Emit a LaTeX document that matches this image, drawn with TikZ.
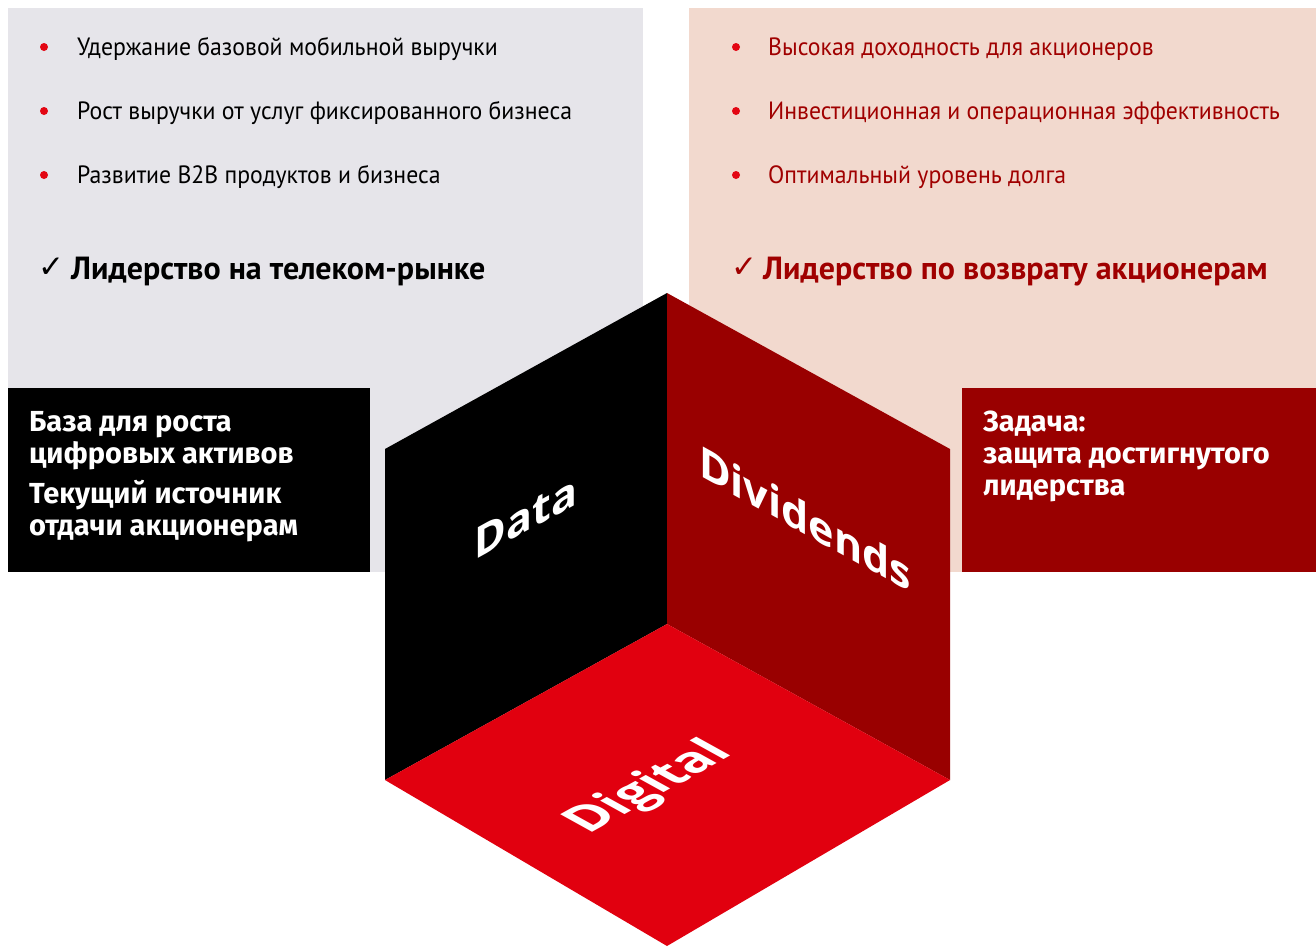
\documentclass[tikz,border=0pt]{standalone}
\usepackage{fontspec}
\setmainfont{PT Sans}
\newfontfamily\listfont{PT Sans}[FakeStretch=0.95]
\newfontfamily\headfont{PT Sans}
\newfontfamily\boxfont{Fira Sans}
\newfontfamily\cubefont{Open Sans}
\newfontfamily\symfont{DejaVu Sans}
\definecolor{graypanel}{HTML}{E6E5EA}
\definecolor{peachpanel}{HTML}{F2D9CE}
\definecolor{darkred}{HTML}{990000}
\definecolor{brightred}{HTML}{E1000F}
\definecolor{dotred}{HTML}{E30613}
\definecolor{redtext}{HTML}{A00000}
\tikzset{
  dotmark/.style={circle, fill=dotred, inner sep=0pt, minimum size=8pt},
  listtext/.style={anchor=base west, inner sep=0pt, font=\listfont\fontsize{25}{29}\selectfont},
  headtext/.style={anchor=base west, inner sep=0pt, font=\headfont\bfseries\fontsize{32}{36}\selectfont},
  checkmark/.style={anchor=base west, inner sep=0pt, font=\symfont\fontsize{31}{34}\selectfont},
  boxtext/.style={anchor=base west, inner sep=0pt, text=white, font=\boxfont\bfseries\fontsize{29}{33}\selectfont},
  cubetext/.style={inner sep=0pt, text=white, font=\cubefont\bfseries\fontsize{43}{48}\selectfont}
}
\begin{document}
\begin{tikzpicture}[x=1pt, y=-1pt]
\useasboundingbox (0,0) rectangle (1316,946);
% panels
\fill[graypanel] (8,8) rectangle (643,572);
\fill[peachpanel] (689,8) rectangle (1316,572);
\fill[black] (8,388) rectangle (370,572);
\fill[darkred] (962,388) rectangle (1316,572);
% cube
\coordinate (top) at (667,293);
\coordinate (lu) at (385,449);
\coordinate (ll) at (385,780);
\coordinate (ru) at (950,449);
\coordinate (rl) at (950,780);
\coordinate (ctr) at (667,624);
\coordinate (bot) at (667,946);
\fill[black] (lu) -- (top) -- (ctr) -- (ll) -- cycle;
\fill[darkred] (top) -- (ru) -- (rl) -- (ctr) -- cycle;
\fill[brightred] (ctr) -- (rl) -- (bot) -- (ll) -- cycle;
\node[cubetext, cm={1,0.553,0,1,(0,0)}] (data) at (526,517) {Data};
\node[cubetext, cm={1,-0.553,0,1,(0,0)}] (div) at (805,518) {Dividends};
\node[cubetext, font=\cubefont\bfseries\fontsize{51}{55}\selectfont, cm={0.875,0.484,-0.875,0.484,(0,0)}] (dig) at (650,788) {Digital};
% left list
\node[dotmark] (ld1) at (44,47) {};
\node[dotmark] (ld2) at (44,111) {};
\node[dotmark] (ld3) at (44,175) {};
\node[listtext] (lt1) at (77,55) {Удержание базовой мобильной выручки};
\node[listtext] (lt2) at (77,119) {Рост выручки от услуг фиксированного бизнеса};
\node[listtext] (lt3) at (77,183) {Развитие B2B продуктов и бизнеса};
\node[checkmark] (lc) at (38,277) {✓};
\node[headtext] (lh) at (71,279) {Лидерство на телеком-рынке};
% right list
\node[dotmark] (rd1) at (736,47) {};
\node[dotmark] (rd2) at (736,111) {};
\node[dotmark] (rd3) at (736,175) {};
\node[listtext, text=redtext] (rt1) at (768,55) {Высокая доходность для акционеров};
\node[listtext, text=redtext] (rt2) at (768,119) {Инвестиционная и операционная эффективность};
\node[listtext, text=redtext] (rt3) at (768,183) {Оптимальный уровень долга};
\node[checkmark, text=redtext] (rc) at (731,277) {✓};
\node[headtext, text=redtext] (rh) at (763,279) {Лидерство по возврату акционерам};
% boxes
\node[boxtext] (bl1) at (29,431) {База для роста};
\node[boxtext] (bl2) at (29,463) {цифровых активов};
\node[boxtext] (bl3) at (29,503) {Текущий источник};
\node[boxtext] (bl4) at (29,535) {отдачи акционерам};
\node[boxtext] (br1) at (983,431) {Задача:};
\node[boxtext] (br2) at (983,463) {защита достигнутого};
\node[boxtext] (br3) at (983,495) {лидерства};
\end{tikzpicture}
\end{document}
